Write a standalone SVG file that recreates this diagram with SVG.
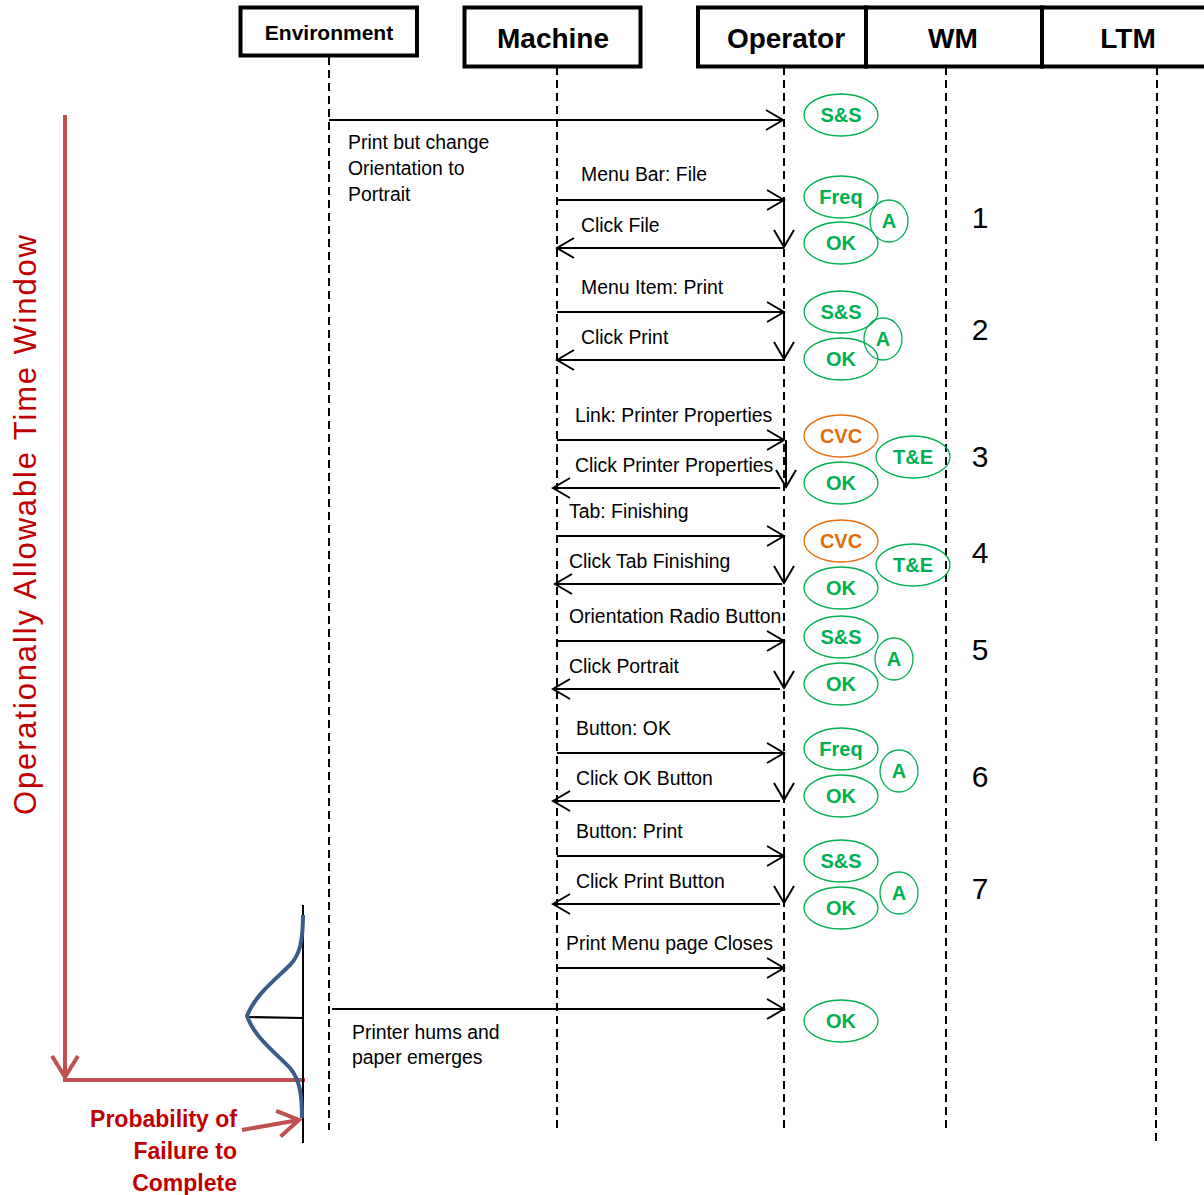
<svg xmlns="http://www.w3.org/2000/svg" width="1204" height="1195" viewBox="0 0 1204 1195">
<style>
.box{fill:#fff;stroke:#000;stroke-width:4}
.hdr{font-family:"Liberation Sans",Arial,sans-serif;font-weight:bold;font-size:28px;text-anchor:middle;fill:#000}
.life{stroke:#000;stroke-width:2;stroke-dasharray:8 5;fill:none}
.msg{stroke:#000;stroke-width:2;fill:none;marker-end:url(#ah)}
.lbl{font-family:"Liberation Sans",Arial,sans-serif;font-size:19.4px;fill:#000}
.g{fill:#fff;stroke:#00B050;stroke-width:1.3}
.o{fill:#fff;stroke:#E46C0A;stroke-width:1.3}
.gt{font-family:"Liberation Sans",Arial,sans-serif;font-weight:bold;font-size:20px;text-anchor:middle;fill:#00B050}
.ot{font-family:"Liberation Sans",Arial,sans-serif;font-weight:bold;font-size:20px;text-anchor:middle;fill:#E46C0A}
.num{font-family:"Liberation Sans",Arial,sans-serif;font-size:30px;text-anchor:middle;fill:#000}
.red{font-family:"Liberation Sans",Arial,sans-serif;font-weight:bold;font-size:23px;text-anchor:end;fill:#C00000}
</style>
<defs>
<marker id="ah" markerUnits="userSpaceOnUse" viewBox="0 0 20 22" refX="18" refY="11" markerWidth="20" markerHeight="22" orient="auto">
<path d="M1,1 L18,11 L1,21" fill="none" stroke="#000" stroke-width="2"/>
</marker>
<marker id="rah" markerUnits="userSpaceOnUse" viewBox="0 0 26 30" refX="23" refY="15" markerWidth="26" markerHeight="30" orient="auto">
<path d="M2,2 L23,15 L2,28" fill="none" stroke="#C0504D" stroke-width="4"/>
</marker>
</defs>
<rect width="1204" height="1195" fill="#fff"/>

<g id="lifelines">
<line class="life" x1="329" y1="57" x2="329" y2="1130"/>
<line class="life" x1="557" y1="67" x2="557" y2="1132"/>
<line class="life" x1="784" y1="67" x2="784" y2="1130"/>
<line class="life" x1="946" y1="67" x2="946" y2="1130"/>
<line class="life" x1="1157" y1="67" x2="1156" y2="1143"/>
</g>

<g id="node-environment"><rect class="box" x="240.5" y="7.5" width="176.5" height="48"/><text class="hdr" x="329" y="40" style="font-size:21px">Environment</text></g>
<g id="node-machine"><rect class="box" x="464.5" y="7.5" width="176" height="59"/><text class="hdr" x="553" y="48">Machine</text></g>
<g id="node-operator"><rect class="box" x="698" y="7.5" width="168" height="59"/><text class="hdr" x="786" y="48">Operator</text></g>
<g id="node-wm"><rect class="box" x="866" y="7.5" width="176" height="59"/><text class="hdr" x="953" y="48">WM</text></g>
<g id="node-ltm"><rect class="box" x="1042" y="7.5" width="170" height="59"/><text class="hdr" x="1128" y="48">LTM</text></g>

<g id="connectors">
<line class="msg" x1="329" y1="120" x2="783" y2="120"/>
<line class="msg" x1="557" y1="200" x2="784" y2="200"/>
<line class="msg" x1="784" y1="200" x2="784" y2="247"/>
<line class="msg" x1="784" y1="248" x2="557" y2="248"/>
<line class="msg" x1="557" y1="312" x2="784" y2="312"/>
<line class="msg" x1="784" y1="312" x2="784" y2="359"/>
<line class="msg" x1="784" y1="360" x2="557" y2="360"/>
<line class="msg" x1="557" y1="440" x2="784" y2="440"/>
<line class="msg" x1="786" y1="440" x2="786" y2="487"/>
<line class="msg" x1="780" y1="488" x2="553" y2="488"/>
<line class="msg" x1="557" y1="536" x2="784" y2="536"/>
<line class="msg" x1="784" y1="536" x2="784" y2="583"/>
<line class="msg" x1="782" y1="584" x2="555" y2="584"/>
<line class="msg" x1="557" y1="641" x2="784" y2="641"/>
<line class="msg" x1="784" y1="641" x2="784" y2="688"/>
<line class="msg" x1="780" y1="689" x2="553" y2="689"/>
<line class="msg" x1="557" y1="753" x2="784" y2="753"/>
<line class="msg" x1="784" y1="753" x2="784" y2="800"/>
<line class="msg" x1="780" y1="801" x2="553" y2="801"/>
<line class="msg" x1="557" y1="856" x2="784" y2="856"/>
<line class="msg" x1="784" y1="856" x2="784" y2="903"/>
<line class="msg" x1="780" y1="904" x2="553" y2="904"/>
<line class="msg" x1="557" y1="968" x2="784" y2="968"/>
<line class="msg" x1="332" y1="1009" x2="784" y2="1009"/>
</g>

<g id="labels">
<text class="lbl" x="348" y="149">Print but change</text>
<text class="lbl" x="348" y="175">Orientation to</text>
<text class="lbl" x="348" y="201">Portrait</text>
<text class="lbl" x="581" y="181">Menu Bar: File</text>
<text class="lbl" x="581" y="232">Click File</text>
<text class="lbl" x="581" y="294">Menu Item: Print</text>
<text class="lbl" x="581" y="344">Click Print</text>
<text class="lbl" x="575" y="422">Link: Printer Properties</text>
<text class="lbl" x="575" y="472">Click Printer Properties</text>
<text class="lbl" x="569" y="518">Tab: Finishing</text>
<text class="lbl" x="569" y="568">Click Tab Finishing</text>
<text class="lbl" x="569" y="623">Orientation Radio Button</text>
<text class="lbl" x="569" y="673">Click Portrait</text>
<text class="lbl" x="576" y="735">Button: OK</text>
<text class="lbl" x="576" y="785">Click OK Button</text>
<text class="lbl" x="576" y="838">Button: Print</text>
<text class="lbl" x="576" y="888">Click Print Button</text>
<text class="lbl" x="566" y="950">Print Menu page Closes</text>
<text class="lbl" x="352" y="1039">Printer hums and</text>
<text class="lbl" x="352" y="1064">paper emerges</text>
</g>

<g id="node-s1-ss"><ellipse class="g" cx="841" cy="115" rx="37" ry="21"/><text class="gt" x="841" y="122">S&amp;S</text></g>

<g id="node-step1">
<ellipse class="g" cx="841" cy="197" rx="37" ry="21"/><text class="gt" x="841" y="204">Freq</text>
<ellipse class="g" cx="841" cy="243" rx="37" ry="21"/><text class="gt" x="841" y="250">OK</text>
<ellipse class="g" cx="889" cy="221" rx="19" ry="21"/><text class="gt" x="889" y="228">A</text>
</g>
<g id="node-step2">
<ellipse class="g" cx="841" cy="312" rx="37" ry="21"/><text class="gt" x="841" y="319">S&amp;S</text>
<ellipse class="g" cx="841" cy="359" rx="37" ry="21"/><text class="gt" x="841" y="366">OK</text>
<ellipse class="g" cx="883" cy="339" rx="19" ry="21" style="fill:none"/><text class="gt" x="883" y="346">A</text>
</g>
<g id="node-step3">
<ellipse class="o" cx="841" cy="436" rx="37" ry="21"/><text class="ot" x="841" y="443">CVC</text>
<ellipse class="g" cx="841" cy="483" rx="37" ry="21"/><text class="gt" x="841" y="490">OK</text>
<ellipse class="g" cx="913" cy="457" rx="37" ry="21" style="fill:none"/><text class="gt" x="913" y="464">T&amp;E</text>
</g>
<g id="node-step4">
<ellipse class="o" cx="841" cy="541" rx="37" ry="21"/><text class="ot" x="841" y="548">CVC</text>
<ellipse class="g" cx="841" cy="588" rx="37" ry="21"/><text class="gt" x="841" y="595">OK</text>
<ellipse class="g" cx="913" cy="565" rx="37" ry="21" style="fill:none"/><text class="gt" x="913" y="572">T&amp;E</text>
</g>
<g id="node-step5">
<ellipse class="g" cx="841" cy="637" rx="37" ry="21"/><text class="gt" x="841" y="644">S&amp;S</text>
<ellipse class="g" cx="841" cy="684" rx="37" ry="21"/><text class="gt" x="841" y="691">OK</text>
<ellipse class="g" cx="894" cy="659" rx="19" ry="21"/><text class="gt" x="894" y="666">A</text>
</g>
<g id="node-step6">
<ellipse class="g" cx="841" cy="749" rx="37" ry="21"/><text class="gt" x="841" y="756">Freq</text>
<ellipse class="g" cx="841" cy="796" rx="37" ry="21"/><text class="gt" x="841" y="803">OK</text>
<ellipse class="g" cx="899" cy="771" rx="19" ry="21"/><text class="gt" x="899" y="778">A</text>
</g>
<g id="node-step7">
<ellipse class="g" cx="841" cy="861" rx="37" ry="21"/><text class="gt" x="841" y="868">S&amp;S</text>
<ellipse class="g" cx="841" cy="908" rx="37" ry="21"/><text class="gt" x="841" y="915">OK</text>
<ellipse class="g" cx="899" cy="893" rx="19" ry="21"/><text class="gt" x="899" y="900">A</text>
</g>
<g id="node-final-ok"><ellipse class="g" cx="841" cy="1021" rx="37" ry="21"/><text class="gt" x="841" y="1028">OK</text></g>

<g id="step-numbers">
<text class="num" x="980" y="228">1</text>
<text class="num" x="980" y="340">2</text>
<text class="num" x="980" y="467">3</text>
<text class="num" x="980" y="563">4</text>
<text class="num" x="980" y="660">5</text>
<text class="num" x="980" y="787">6</text>
<text class="num" x="980" y="899">7</text>
</g>

<g id="time-window">
<line x1="65" y1="115" x2="65" y2="1077" stroke="#C0504D" stroke-width="4" marker-end="url(#rah)"/>
<line x1="63" y1="1080" x2="305" y2="1080" stroke="#C0504D" stroke-width="4"/>
<text transform="translate(36,525) rotate(-90)" font-family="Liberation Sans, Arial, sans-serif" font-size="31" fill="#C00000" text-anchor="middle" textLength="580" lengthAdjust="spacing">Operationally Allowable Time Window</text>
</g>

<g id="distribution">
<line x1="303" y1="905" x2="303" y2="1143" stroke="#000" stroke-width="2"/>
<line x1="247" y1="1017" x2="303" y2="1018" stroke="#000" stroke-width="2"/>
<path d="M303,915 C303,940 300,955 290,965 C275,980 255,995 247,1016 C255,1038 275,1052 290,1068 C300,1080 302,1095 302,1118" fill="none" stroke="#385D8A" stroke-width="4"/>
</g>

<g id="failure-label">
<line x1="242" y1="1130" x2="299" y2="1120" stroke="#C0504D" stroke-width="4" marker-end="url(#rah)"/>
<text class="red" x="237" y="1127">Probability of</text>
<text class="red" x="237" y="1159">Failure to</text>
<text class="red" x="237" y="1191">Complete</text>
</g>
</svg>
